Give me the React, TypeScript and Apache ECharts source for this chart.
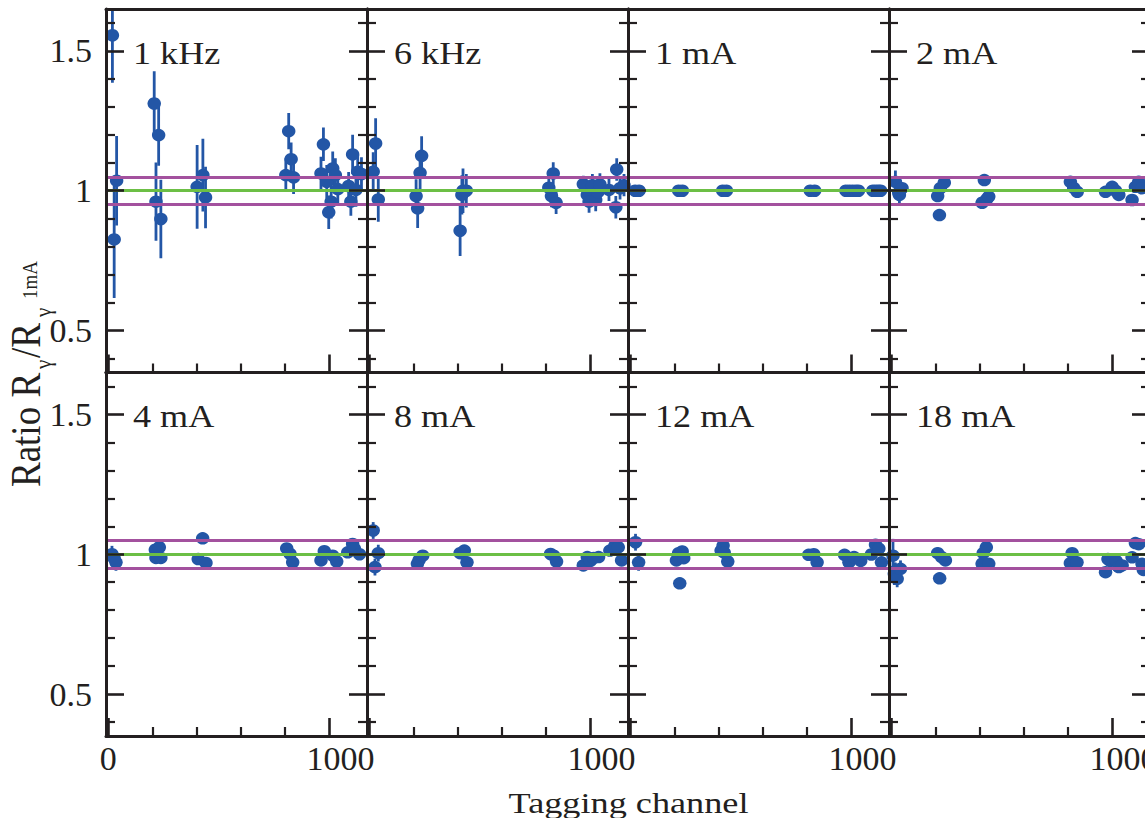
import React, { useEffect, useRef } from 'react';
import * as echarts from 'echarts';

// ---------- data (channel, ratio, error) ----------
const panelLabels = ['1 kHz', '6 kHz', '1 mA', '2 mA', '4 mA', '8 mA', '12 mA', '18 mA'];

const ratio1kHz: number[][] = [
  [19, 1.556, 0.17], [27, 0.826, 0.21], [38, 1.036, 0.16],
  [208, 1.312, 0.115], [216, 0.961, 0.14], [228, 1.199, 0.11], [238, 0.899, 0.14],
  [402, 1.014, 0.15], [428, 1.056, 0.13], [440, 0.976, 0.11],
  [803, 1.056, 0.06], [816, 1.213, 0.065], [827, 1.113, 0.06], [838, 1.048, 0.06],
  [962, 1.062, 0.06], [973, 1.166, 0.06], [988, 1.032, 0.06], [997, 0.923, 0.06],
  [1008, 0.961, 0.06], [1015, 1.08, 0.06], [1027, 1.056, 0.06], [1038, 1.006, 0.06],
  [1087, 1.017, 0.05], [1097, 0.961, 0.05], [1105, 1.13, 0.07], [1120, 1.003, 0.06],
  [1128, 1.068, 0.06], [1145, 1.06, 0.06],
];

const ratio6kHz: number[][] = [
  [18, 1.068, 0.07], [29, 1.169, 0.09], [41, 0.969, 0.08],
  [212, 0.981, 0.06], [219, 0.937, 0.07], [230, 1.064, 0.06], [237, 1.125, 0.07],
  [411, 0.857, 0.09], [419, 0.985, 0.07], [424, 1.0, 0.08], [439, 1.0, 0.06],
  [812, 1.011, 0.04], [824, 0.981, 0.04], [832, 1.062, 0.04], [845, 0.957, 0.04],
  [968, 1.024, 0.03], [986, 0.985, 0.04], [994, 0.961, 0.04], [1009, 1.02, 0.04],
  [1024, 0.967, 0.04], [1034, 0.995, 0.04], [1043, 1.023, 0.04], [1084, 1.003, 0.04],
  [1115, 0.941, 0.04], [1119, 1.076, 0.04], [1134, 1.009, 0.04], [1152, 1.02, 0.04],
];

const ratio1mA: number[][] = [
  [22, 1, 0], [40, 1, 0], [219, 1, 0], [236, 1, 0], [418, 1, 0], [435, 1, 0],
  [814, 1, 0], [834, 1, 0], [975, 1, 0], [990, 1, 0], [1005, 1, 0], [1020, 1, 0],
  [1032, 1, 0], [1097, 1, 0], [1110, 1, 0], [1122, 1, 0], [1132, 1, 0],
];

const ratio2mA: number[][] = [
  [19, 1.032, 0.04], [34, 0.993, 0.03], [37, 0.985, 0.03], [49, 1.009, 0.02],
  [210, 0.981, 0.02], [218, 0.913, 0.02], [222, 1.009, 0.02], [240, 1.029, 0.02],
  [411, 0.957, 0.02], [421, 1.038, 0.02], [432, 0.97, 0.02], [441, 0.979, 0.02],
  [810, 1.032, 0.01], [825, 1.01, 0.01], [841, 0.996, 0.01],
  [969, 0.996, 0.01], [999, 1.014, 0.01], [1014, 1.0, 0.01], [1029, 0.985, 0.01],
  [1089, 0.967, 0.01], [1104, 1.014, 0.01], [1119, 1.032, 0.01], [1134, 1.009, 0.01],
];

const ratio4mA: number[][] = [
  [17, 1.0, 0.03], [27, 0.985, 0.02], [35, 0.971, 0.03],
  [213, 1.016, 0.02], [216, 0.987, 0.02], [231, 1.025, 0.02], [238, 0.987, 0.02],
  [407, 0.983, 0.02], [427, 1.057, 0.02], [442, 0.969, 0.02],
  [807, 1.021, 0.01], [822, 1.001, 0.01], [834, 0.971, 0.01],
  [962, 0.978, 0.01], [977, 1.011, 0.01], [1015, 0.995, 0.01], [1033, 0.974, 0.01],
  [1083, 1.007, 0.01], [1105, 1.037, 0.01], [1113, 1.02, 0.01], [1136, 1.0, 0.01],
];

const ratio8mA: number[][] = [
  [18, 1.085, 0.03], [26, 0.954, 0.03], [41, 1.004, 0.03],
  [218, 0.966, 0.02], [226, 0.98, 0.02], [242, 0.995, 0.02],
  [411, 1.004, 0.02], [430, 1.013, 0.02], [442, 0.971, 0.01],
  [820, 1.001, 0.01], [834, 0.995, 0.01], [847, 0.974, 0.01],
  [968, 0.96, 0.01], [986, 0.99, 0.01], [1000, 0.976, 0.01], [1015, 0.987, 0.01],
  [1037, 0.99, 0.01], [1088, 1.013, 0.01], [1111, 1.031, 0.01], [1126, 1.025, 0.01],
  [1141, 0.978, 0.01],
];

const ratio12mA: number[][] = [
  [24, 1.043, 0.03], [38, 0.971, 0.03],
  [209, 0.978, 0.02], [219, 1.004, 0.02], [224, 0.896, 0.02], [235, 1.01, 0.02], [242, 0.986, 0.02],
  [411, 1.013, 0.02], [420, 1.031, 0.02], [425, 1.006, 0.02], [441, 0.974, 0.01],
  [807, 0.998, 0.01], [830, 1.0, 0.01], [845, 0.971, 0.01],
  [969, 0.998, 0.01], [989, 0.971, 0.01], [1012, 0.99, 0.01], [1042, 0.976, 0.01],
  [1090, 0.999, 0.01], [1109, 1.034, 0.01], [1124, 1.02, 0.01], [1136, 0.971, 0.01],
];

const ratio18mA: number[][] = [
  [8, 0.995, 0.06], [14, 0.93, 0.04], [19, 0.94, 0.03], [27, 0.912, 0.03], [42, 0.948, 0.03],
  [210, 1.004, 0.02], [219, 0.914, 0.02], [228, 0.99, 0.02], [245, 0.978, 0.02],
  [411, 0.966, 0.02], [416, 1.004, 0.02], [430, 1.025, 0.02], [441, 0.966, 0.02],
  [810, 0.968, 0.01], [818, 1.004, 0.01], [840, 0.971, 0.01],
  [969, 0.936, 0.01], [980, 0.983, 0.01], [990, 0.976, 0.01], [1017, 0.976, 0.01],
  [1029, 0.954, 0.01], [1044, 0.96, 0.01], [1089, 0.989, 0.01], [1104, 1.04, 0.01],
  [1119, 1.036, 0.01], [1134, 0.966, 0.01], [1140, 0.944, 0.01],
];

const panelData = [ratio1kHz, ratio6kHz, ratio1mA, ratio2mA, ratio4mA, ratio8mA, ratio12mA, ratio18mA];

const unityLine = 1.0;
const bandLines = [0.95, 1.05];

const xMajorTicks = [0, 1000];
const xMinorTicks = [200, 400, 600, 800];
const yMajorTicks = [0.5, 1, 1.5];
const yMinorTicks = [0.4, 0.6, 0.7, 0.8, 0.9, 1.1, 1.2, 1.3, 1.4, 1.6];

const xTitle = 'Tagging channel';

// ---------- style / layout ----------
const FONT = 'Liberation Serif';
const INK = '#231f20';
const BLUE = '#2356a6';
const GREEN = '#6cbf45';
const PURPLE = '#a3519e';
const X_MIN = -10, X_MAX = 1170, Y_MIN = 0.35, Y_MAX = 1.65;
const GRID_L0 = 106, GRID_W = 261, ROW_TOP = [9, 372.5], GRID_H = 363.5;
const STRETCH = 1.13;

function buildOption() {
  const grid: any[] = [];
  const xAxis: any[] = [];
  const yAxis: any[] = [];
  const series: any[] = [];
  const graphic: any[] = [];

  panelData.forEach((data, i) => {
    const row = Math.floor(i / 4);
    const col = i % 4;
    const left = GRID_L0 + col * GRID_W;
    grid.push({ left, top: ROW_TOP[row], width: GRID_W, height: GRID_H, outerBoundsMode: 'none', containLabel: false, show: false });

    const lineStyle = { color: INK, width: 3 };
    const xb = { type: 'value', gridIndex: i, min: X_MIN, max: X_MAX, splitLine: { show: false }, z: 5 };
    const labelStyle = { color: INK, fontFamily: FONT, fontSize: 34 };
    xAxis.push({
      ...xb, position: 'bottom',
      axisLine: { show: true, onZero: false, lineStyle },
      axisTick: { show: true, inside: true, length: 18, customValues: xMajorTicks, lineStyle: { color: INK, width: 2.6 } },
      axisLabel: row === 1 ? {
        show: true, ...labelStyle, margin: 5,
        customValues: col === 0 ? xMajorTicks : xMajorTicks.filter(v => v !== 0),
        formatter: (v: number) => (v === 1000 ? '{o|' + v + '}' : String(v)),
        rich: { o: { ...labelStyle, padding: [0, 0, 0, 22] } },
      } : { show: false },
    });
    xAxis.push({
      ...xb, position: 'bottom',
      axisLine: { show: false, onZero: false },
      axisTick: { show: true, inside: true, length: 9, customValues: xMinorTicks, lineStyle: { color: INK, width: 2.2 } },
      axisLabel: { show: false },
    });
    xAxis.push({
      ...xb, position: 'top',
      axisLine: { show: true, onZero: false, lineStyle },
      axisTick: { show: false }, axisLabel: { show: false },
    });

    const yb = { type: 'value', gridIndex: i, min: Y_MIN, max: Y_MAX, splitLine: { show: false }, z: 5 };
    ['left', 'right'].forEach(pos => {
      yAxis.push({
        ...yb, position: pos,
        axisLine: { show: true, onZero: false, lineStyle },
        axisTick: { show: true, inside: true, length: 18, customValues: yMajorTicks, lineStyle: { color: INK, width: 2.6 } },
        axisLabel: pos === 'left' && col === 0 ? { show: true, ...labelStyle, margin: 14, customValues: yMajorTicks } : { show: false },
      });
      yAxis.push({
        ...yb, position: pos,
        axisLine: { show: false, onZero: false },
        axisTick: { show: true, inside: true, length: 9, customValues: yMinorTicks, lineStyle: { color: INK, width: 2.2 } },
        axisLabel: { show: false },
      });
    });

    const xi = i * 3, yi = i * 4;
    series.push({
      type: 'line', xAxisIndex: xi, yAxisIndex: yi, data: [], z: 1, silent: true,
      markLine: {
        silent: true, symbol: ['none', 'none'], label: { show: false }, animation: false,
        data: [
          ...bandLines.map(v => ({ yAxis: v, lineStyle: { color: PURPLE, width: 2.8, type: 'solid' } })),
          { yAxis: unityLine, lineStyle: { color: GREEN, width: 3, type: 'solid' } },
        ],
      },
    });
    series.push({
      type: 'custom', xAxisIndex: xi, yAxisIndex: yi, z: 2, clip: true, silent: true,
      data,
      encode: { x: 0, y: 1 },
      renderItem: (params: any, api: any) => {
        const x = api.value(0), y = api.value(1), e = api.value(2);
        if (!e) return null;
        const p1 = api.coord([x, y - e]);
        const p2 = api.coord([x, y + e]);
        return { type: 'line', shape: { x1: p1[0], y1: p1[1], x2: p2[0], y2: p2[1] }, style: { stroke: BLUE, lineWidth: 2.8 } };
      },
    });
    series.push({
      type: 'scatter', xAxisIndex: xi, yAxisIndex: yi, z: 3, symbol: 'circle', symbolSize: [13.5, 12.5],
      itemStyle: { color: BLUE, opacity: 1 }, data: data.map(d => [d[0], d[1]]), silent: true,
    });

    graphic.push({
      type: 'text', x: left + 27, y: row === 0 ? 53 : 416, scaleX: STRETCH, z: 10,
      style: { text: panelLabels[i], fontFamily: FONT, fontSize: 32, fill: INK, align: 'left', verticalAlign: 'middle' },
    });
  });

  graphic.push({
    type: 'text', x: 628.5, y: 803.5, scaleX: 1.25, z: 10,
    style: { text: xTitle, fontFamily: FONT, fontSize: 29, fill: INK, align: 'center', verticalAlign: 'middle' },
  });

  const t = (text: string, x: number, y: number, size: number) => ({
    type: 'text', x, y,
    style: { text, fontFamily: FONT, fontSize: size, fill: INK, align: 'left', verticalAlign: 'middle' },
  });
  graphic.push({
    type: 'group', x: 26.5, y: 487, rotation: Math.PI / 2, scaleY: STRETCH, z: 10,
    children: [
      t('Ratio R', 0, 0, 37),
      t('γ', 118, 15, 21),
      t('/R', 129, 0, 37),
      t('γ', 170, 15, 21),
      t('1mA', 188, 3, 19),
    ],
  });

  return { animation: false, backgroundColor: '#ffffff', grid, xAxis, yAxis, series, graphic };
}

export default function App() {
  const ref = useRef<HTMLDivElement>(null);
  useEffect(() => {
    if (!ref.current) return;
    const chart = echarts.init(ref.current, undefined, { renderer: 'svg' });
    chart.setOption(buildOption() as any);
    return () => chart.dispose();
  }, []);
  return <div ref={ref} style={{ position: 'absolute', left: 0, top: 0, width: 1145, height: 818 }} />;
}
